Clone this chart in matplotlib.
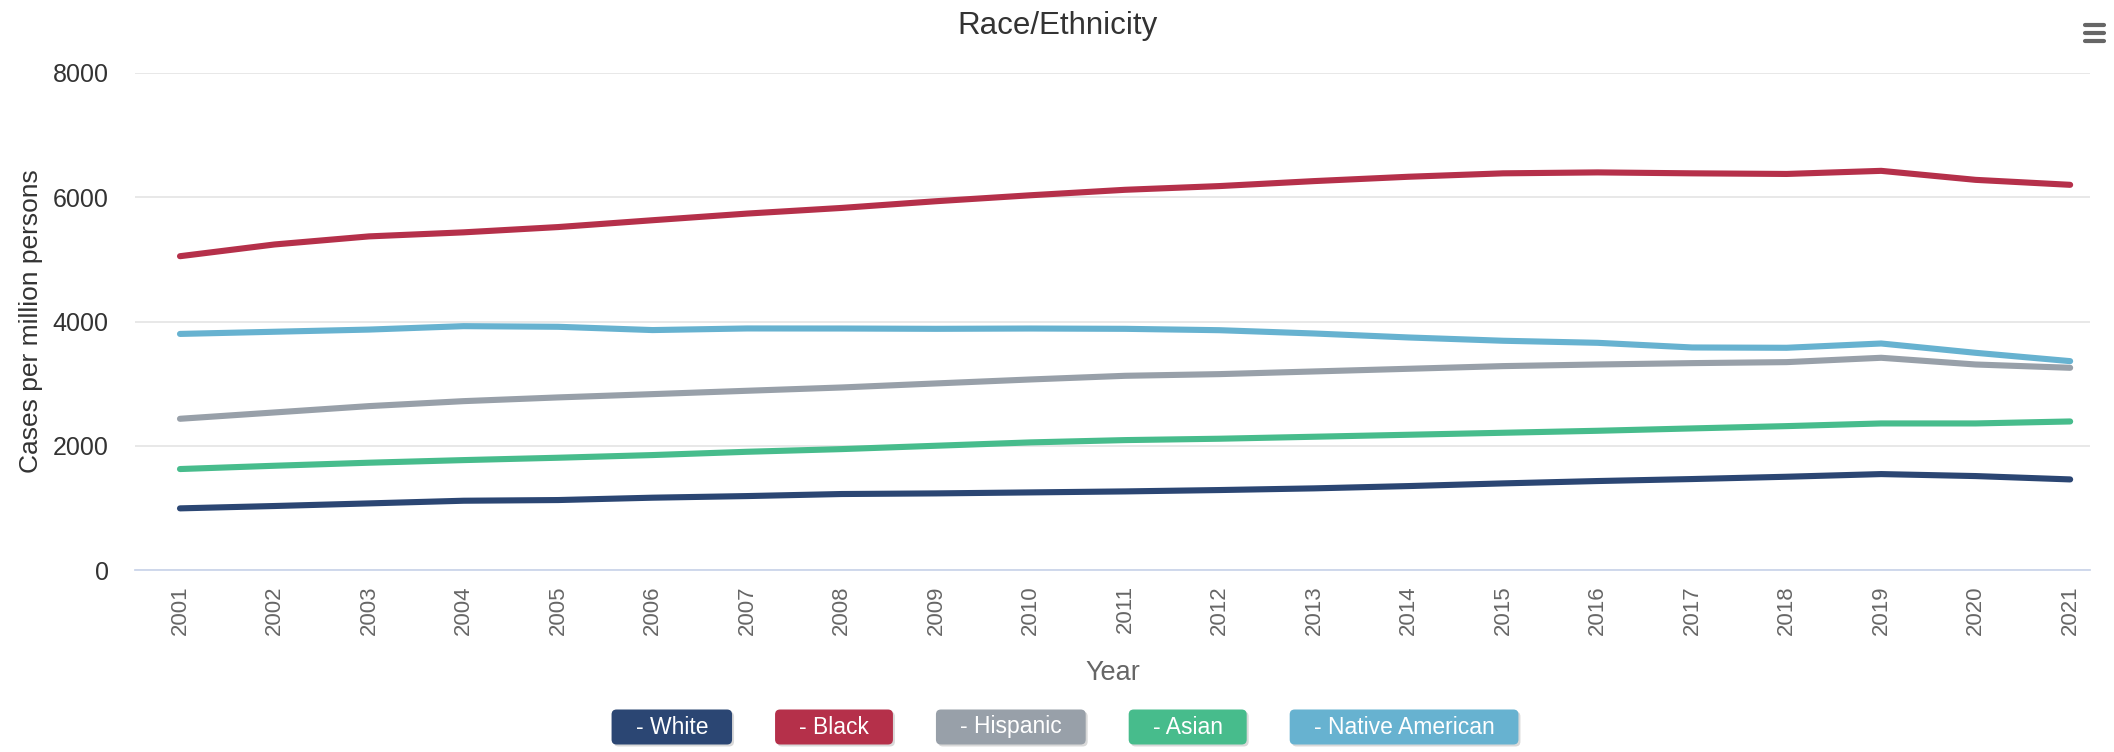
import matplotlib
matplotlib.use("Agg")
import matplotlib.pyplot as plt
from matplotlib.patches import FancyBboxPatch
from matplotlib.lines import Line2D

# ---- data (cases per million persons) ----
years = list(range(2001, 2022))
white = [992, 1030, 1072, 1115, 1126, 1164, 1190, 1223, 1233, 1249, 1265,
         1287, 1314, 1351, 1394, 1432, 1464, 1501, 1544, 1512, 1458]
black = [5051, 5240, 5370, 5435, 5520, 5630, 5737, 5828, 5936, 6032, 6120,
         6180, 6260, 6330, 6385, 6400, 6385, 6375, 6425, 6280, 6200]
hispanic = [2434, 2536, 2638, 2718, 2778, 2831, 2885, 2938, 3003, 3067, 3126,
            3153, 3196, 3239, 3282, 3308, 3330, 3346, 3416, 3308, 3255]
asian = [1625, 1678, 1727, 1769, 1807, 1850, 1903, 1946, 2000, 2054, 2091,
         2113, 2145, 2177, 2209, 2241, 2279, 2316, 2359, 2359, 2391]
native = [3800, 3835, 3870, 3925, 3915, 3862, 3888, 3887, 3882, 3887, 3882,
          3860, 3807, 3743, 3690, 3657, 3582, 3577, 3646, 3496, 3362]

series_names = ["White", "Black", "Hispanic", "Asian", "Native American"]
series_colors = ["#2b4673", "#b5304a", "#98a0a9", "#47bc8c", "#67b2d0"]

plt.rcParams['font.family'] = ['Liberation Sans', 'DejaVu Sans']

W, H = 2114, 752
fig = plt.figure(figsize=(W / 100, H / 100), dpi=100)
ax = fig.add_axes([135 / W, 1 - 570 / H, (2090 - 135) / W, (570 - 73) / H])

for vals, name, col in zip([white, black, hispanic, asian, native], series_names, series_colors):
    ax.plot(years, vals, color=col, lw=4.4, solid_capstyle='round',
            solid_joinstyle='round', label=name, zorder=3)

ax.set_xlim(2001 - 0.476, 2021 + 0.21)
ax.set_ylim(0, 8000)
ax.set_yticks(range(0, 8001, 2000))
ax.set_xticks(years)
ax.set_xticklabels([str(y) for y in years], rotation=90, color='#666666', fontsize=16)
ax.tick_params(axis='y', length=0, pad=19, labelsize=18, labelcolor='#333333')
ax.tick_params(axis='x', length=0, pad=11)
ax.grid(axis='y', color='#e6e6e6', lw=1.3)
ax.set_axisbelow(True)
for s in ['top', 'right', 'left']:
    ax.spines[s].set_visible(False)
ax.spines['bottom'].set_color('#ccd6eb')
ax.spines['bottom'].set_linewidth(1.3)

ax.set_ylabel("Cases per million persons", fontsize=19, color='#333333')
ax.yaxis.set_label_coords(-0.047, 0.5)
ax.set_xlabel("Year", fontsize=19.5, color='#666666', labelpad=18)

fig.text(0.5, 1 - 26 / H, "Race/Ethnicity", ha='center', va='center',
         fontsize=22.5, color='#333333')

# hamburger menu icon
for yy in [25, 33, 41]:
    fig.add_artist(Line2D([2085 / W, 2104 / W], [1 - yy / H, 1 - yy / H],
                          color='#666666', lw=3, solid_capstyle='round'))

# legend buttons
fig.canvas.draw()
renderer = fig.canvas.get_renderer()
texts = []
for name in series_names:
    t = fig.text(0, 0, "- " + name, fontsize=16.5, color='white',
                 ha='left', va='center', zorder=6, transform=fig.dpi_scale_trans)
    texts.append(t)
widths = [t.get_window_extent(renderer).width for t in texts]
hpad, gap, bh, yc = 24, 43, 35, 752 - 727
total = sum(w + 2 * hpad for w in widths) + gap * (len(widths) - 1)
x = 1065 - total / 2
for t, w, col in zip(texts, widths, series_colors):
    bw = w + 2 * hpad
    shadow = FancyBboxPatch(((x + 2) / 100, (yc - bh / 2 - 2) / 100), bw / 100, bh / 100,
                            boxstyle="round,pad=0,rounding_size=0.05",
                            fc='black', ec='none', alpha=0.15,
                            transform=fig.dpi_scale_trans, zorder=4)
    box = FancyBboxPatch((x / 100, (yc - bh / 2) / 100), bw / 100, bh / 100,
                         boxstyle="round,pad=0,rounding_size=0.05",
                         fc=col, ec='none', transform=fig.dpi_scale_trans, zorder=5)
    fig.add_artist(shadow)
    fig.add_artist(box)
    t.set_position(((x + hpad) / 100, yc / 100))
    x += bw + gap

fig.savefig("out.png", dpi=100, facecolor='white')
